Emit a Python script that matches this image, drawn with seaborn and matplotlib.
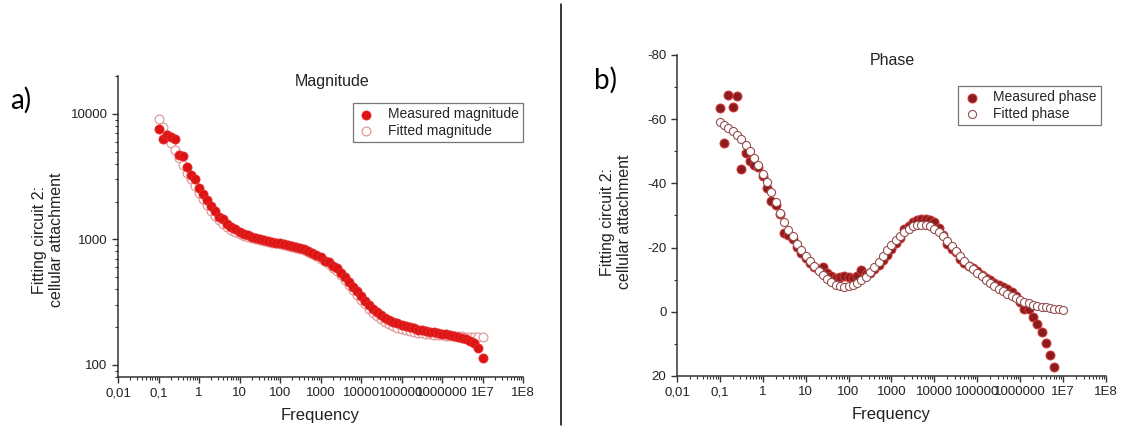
import matplotlib
matplotlib.use("Agg")
import matplotlib.pyplot as plt
from matplotlib.lines import Line2D
from matplotlib.ticker import FixedLocator, FixedFormatter, LogLocator, NullFormatter, MultipleLocator
import pandas as pd
import seaborn as sns

# Sweep frequencies (Hz), 10 points per decade from 0.1 Hz to 10 MHz
freq_hz = [
    0.100, 0.126, 0.158, 0.200, 0.251, 0.316, 0.398, 0.501, 0.631, 0.794,
    1.00, 1.26, 1.58, 2.00, 2.51, 3.16, 3.98, 5.01, 6.31, 7.94,
    10.0, 12.6, 15.8, 20.0, 25.1, 31.6, 39.8, 50.1, 63.1, 79.4,
    100, 126, 158, 200, 251, 316, 398, 501, 631, 794,
    1.00e3, 1.26e3, 1.58e3, 2.00e3, 2.51e3, 3.16e3, 3.98e3, 5.01e3, 6.31e3, 7.94e3,
    1.00e4, 1.26e4, 1.58e4, 2.00e4, 2.51e4, 3.16e4, 3.98e4, 5.01e4, 6.31e4, 7.94e4,
    1.00e5, 1.26e5, 1.58e5, 2.00e5, 2.51e5, 3.16e5, 3.98e5, 5.01e5, 6.31e5, 7.94e5,
    1.00e6, 1.26e6, 1.58e6, 2.00e6, 2.51e6, 3.16e6, 3.98e6, 5.01e6, 6.31e6, 7.94e6,
    1.00e7,
]

# Impedance magnitude
mag_measured = [
    7600, 6250, 6800, 6550, 6300, 4700, 4650, 3800, 3250, 3000,
    2550, 2280, 2050, 1840, 1680, 1500, 1440, 1330, 1260, 1200,
    1150, 1110, 1080, 1050, 1025, 1005, 985, 968, 952, 940,
    928, 915, 900, 885, 870, 850, 832, 805, 780, 752,
    722, 672, 660, 612, 595, 540, 500, 455, 418, 385,
    352, 322, 298, 278, 262, 248, 238, 228, 220, 214,
    208, 203, 199, 195, 191, 188, 185, 183, 181, 179,
    177, 175, 173, 171, 168, 165, 161, 156, 149, 136,
    114,
]
mag_fitted = [
    9040, 7800, 6800, 5900, 5100, 4450, 3900, 3400, 3000, 2650,
    2350, 2090, 1870, 1690, 1540, 1420, 1320, 1250, 1190, 1140,
    1100, 1070, 1045, 1020, 1000, 985, 970, 955, 942, 930,
    917, 903, 889, 873, 857, 840, 820, 796, 770, 738,
    702, 668, 632, 595, 555, 515, 472, 432, 395, 360,
    330, 303, 280, 260, 244, 230, 219, 210, 203, 197,
    192, 188, 185, 182, 180, 178, 176.5, 175, 174, 173,
    172, 171, 170, 169.5, 169, 168.5, 168, 167.5, 167.5, 167,
    167,
]

# Impedance phase (degrees)
phase_measured = [
    -63.5, -52.7, -67.6, -63.8, -67.1, -44.5, -49.5, -47.0, -45.8, -45.0,
    -42.4, -38.5, -34.6, -33.3, -30.5, -24.5, -24.0, -22.6, -20.3, -18.3,
    -16.8, -15.3, -14.0, -13.0, -13.9, -12.0, -11.0, -10.6, -10.8, -11.2,
    -10.9, -10.6, -11.3, -12.9, -11.7, -12.2, -13.3, -14.6, -16.0, -17.8,
    -19.6, -21.3, -23.0, -25.8, -26.8, -28.0, -28.6, -28.9, -28.8, -28.6,
    -28.0, -26.0, -23.8, -21.2, -19.5, -18.6, -16.5, -15.3, -14.2, -13.5,
    -12.6, -11.5, -10.5, -10.0, -9.0, -8.2, -7.6, -7.0, -6.1, -5.0,
    -3.0, -1.0, -0.8, 1.7, 3.7, 6.4, 9.8, 13.6, 17.2,
]
phase_fitted = [
    -59.0, -58.2, -57.3, -56.4, -55.2, -53.7, -51.9, -50.0, -47.9, -45.7,
    -43.0, -40.4, -37.3, -34.2, -30.9, -28.1, -25.6, -23.5, -21.2, -19.2,
    -17.5, -15.8, -14.3, -12.8, -11.4, -10.2, -9.2, -8.5, -8.0, -7.8,
    -7.9, -8.3, -8.9, -9.8, -10.9, -12.3, -13.9, -15.6, -17.4, -19.1,
    -20.8, -22.3, -23.7, -24.9, -25.9, -26.6, -27.0, -27.1, -27.0, -26.6,
    -25.9, -24.9, -23.6, -22.1, -20.5, -18.9, -17.3, -15.8, -14.4, -13.2,
    -12.1, -11.0, -10.0, -9.0, -8.1, -7.2, -6.4, -5.6, -4.9, -4.2,
    -3.6, -3.1, -2.6, -2.2, -1.9, -1.6, -1.4, -1.2, -1.0, -0.9,
    -0.7,
]

x_tick_values = [1e-2, 1e-1, 1, 1e1, 1e2, 1e3, 1e4, 1e5, 1e6, 1e7, 1e8]
x_tick_labels = ["0,01", "0,1", "1", "10", "100", "1000", "10000",
                 "100000", "1000000", "1E7", "1E8"]
mag_tick_values = [100, 1000, 10000]
mag_tick_labels = ["100", "1000", "10000"]
phase_tick_values = [-80, -60, -40, -20, 0, 20]
phase_tick_labels = ["-80", "-60", "-40", "-20", "0", "20"]

sns.set_style("ticks")
plt.rcParams["font.family"] = ["Liberation Sans", "DejaVu Sans"]
plt.rcParams["axes.linewidth"] = 1.1
plt.rcParams["axes.edgecolor"] = "#333333"

fig = plt.figure(figsize=(11.26, 4.30), dpi=100)
ax_mag = fig.add_axes([0.1048, 0.1233, 0.3597, 0.700])
ax_ph = fig.add_axes([0.6012, 0.1256, 0.3810, 0.7465])

mag_df = pd.DataFrame({"f": freq_hz, "measured": mag_measured, "fitted": mag_fitted})
ph_fit_df = pd.DataFrame({"f": freq_hz, "fitted": phase_fitted})
ph_meas_df = pd.DataFrame({"f": freq_hz[:len(phase_measured)], "measured": phase_measured})

# Magnitude panel: fitted circles underneath the measured dots
sns.scatterplot(data=mag_df, x="f", y="fitted", ax=ax_mag, s=40, marker="o",
                facecolor="white", edgecolor="#e39a9a", linewidth=0.9,
                label="Fitted magnitude", zorder=2)
sns.scatterplot(data=mag_df, x="f", y="measured", ax=ax_mag, s=44, marker="o",
                color="#dd1414", edgecolor="#e83030", linewidth=0.5,
                label="Measured magnitude", zorder=3)

# Phase panel: open fitted circles over the measured dots
sns.scatterplot(data=ph_meas_df, x="f", y="measured", ax=ax_ph, s=42, marker="o",
                color="#8e1c1c", edgecolor="#d23c3c", linewidth=0.7,
                label="Measured phase", zorder=2)
sns.scatterplot(data=ph_fit_df, x="f", y="fitted", ax=ax_ph, s=34, marker="o",
                facecolor="white", edgecolor="#94504f", linewidth=0.8,
                label="Fitted phase", zorder=3)

tick_color = "#333333"
for ax in (ax_mag, ax_ph):
    ax.set_xscale("log")
    ax.set_xlim(1e-2, 1e8)
    ax.xaxis.set_major_locator(FixedLocator(x_tick_values))
    ax.xaxis.set_major_formatter(FixedFormatter(x_tick_labels))
    ax.xaxis.set_minor_locator(LogLocator(base=10, subs=range(2, 10), numticks=20))
    ax.xaxis.set_minor_formatter(NullFormatter())
    ax.tick_params(which="major", direction="out", length=4.5, width=1.0,
                   color=tick_color, labelsize=9.5, labelcolor="#222222", pad=3)
    ax.tick_params(which="minor", direction="out", length=2.5, width=0.8, color=tick_color)
    sns.despine(ax=ax)
    ax.set_xlabel("Frequency", fontsize=12, color="#222222", labelpad=6)
    ax.set_ylabel("")

ax_mag.set_yscale("log")
ax_mag.set_ylim(80, 20000)
ax_mag.yaxis.set_major_locator(FixedLocator(mag_tick_values))
ax_mag.yaxis.set_major_formatter(FixedFormatter(mag_tick_labels))
ax_mag.yaxis.set_minor_locator(LogLocator(base=10, subs=range(2, 10), numticks=10))
ax_mag.yaxis.set_minor_formatter(NullFormatter())

ax_ph.set_ylim(20, -80)
ax_ph.yaxis.set_major_locator(FixedLocator(phase_tick_values))
ax_ph.yaxis.set_major_formatter(FixedFormatter(phase_tick_labels))
ax_ph.yaxis.set_minor_locator(MultipleLocator(10))

# Panel titles inside the plotting area
ax_mag.text(0.528, 0.983, "Magnitude", transform=ax_mag.transAxes,
            ha="center", va="center", fontsize=11.5, color="#222222")
ax_ph.text(0.503, 0.984, "Phase", transform=ax_ph.transAxes,
           ha="center", va="center", fontsize=11.5, color="#222222")

# Legends: measured entry first
for ax, anchor in ((ax_mag, (1.0, 0.91)), (ax_ph, (0.988, 0.903))):
    handles, labels = ax.get_legend_handles_labels()
    order = [1, 0] if ax is ax_mag else [0, 1]
    leg = ax.legend([handles[i] for i in order], [labels[i] for i in order],
                    loc="upper right", bbox_to_anchor=anchor, fontsize=10,
                    frameon=True, fancybox=False, framealpha=1,
                    edgecolor="#777777", borderpad=0.3, handletextpad=0.9,
                    labelspacing=0.2, handlelength=1.3, borderaxespad=0)
    leg.get_frame().set_linewidth(0.9)

# Shared-style y labels
ylab = "Fitting circuit 2:\ncellular attachment"
fig.text(48 / 1126, 1 - 240 / 430, ylab, rotation=90, ha="center", va="center",
         fontsize=11.5, color="#222222", linespacing=1.1, multialignment="center")
fig.text(616 / 1126, 1 - 222 / 430, ylab, rotation=90, ha="center", va="center",
         fontsize=11.5, color="#222222", linespacing=1.1, multialignment="center")

# Panel letters
fig.text(21 / 1126, 1 - 100 / 430, "a)", ha="center", va="center",
         fontsize=20, family=["Lato", "DejaVu Sans"], color="black")
fig.text(605 / 1126, 1 - 80 / 430, "b)", ha="center", va="center",
         fontsize=20, family=["Lato", "DejaVu Sans"], color="black")

# Vertical separator between the panels
fig.add_artist(Line2D([561 / 1126, 561 / 1126], [1 - 4 / 430, 1 - 425 / 430],
                      transform=fig.transFigure, color="black", linewidth=1.1))

fig.savefig("out.png", dpi=100, facecolor="white")
